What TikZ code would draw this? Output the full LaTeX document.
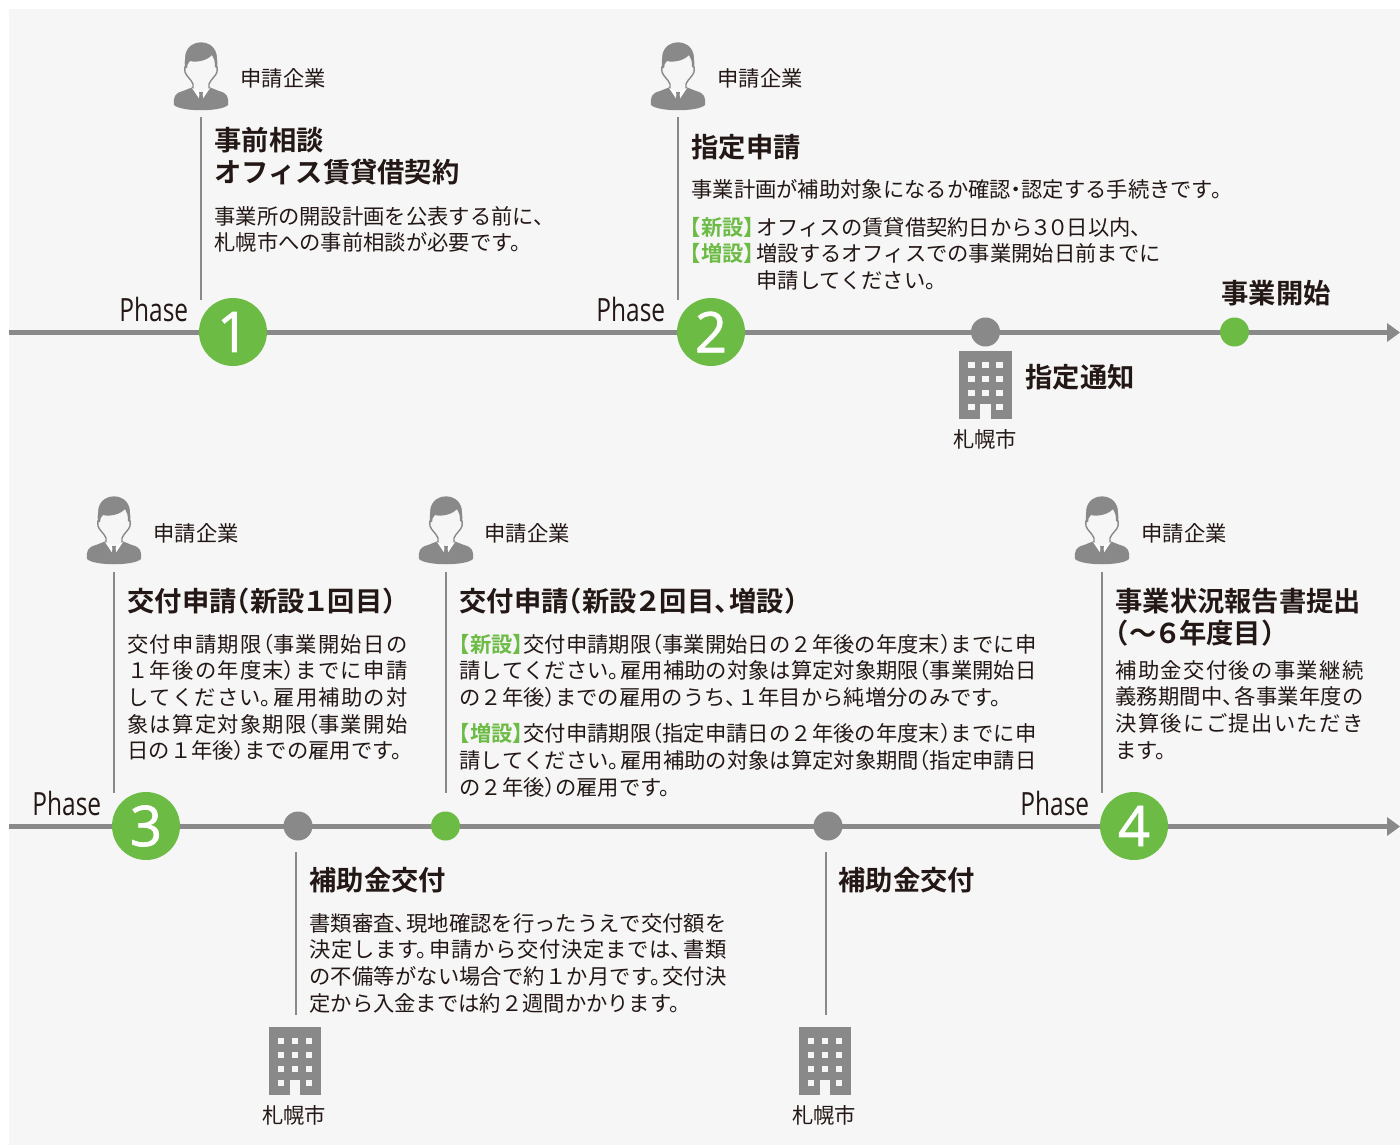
\documentclass[tikz,border=0pt]{standalone}
\usepackage{fontspec}
\newfontfamily\jp{Noto Sans CJK JP}
\newfontfamily\jpb{Noto Sans CJK JP Bold}
\newfontfamily\phasef{Open Sans}
\newfontfamily\numf[FakeBold=1.3]{Open Sans}
\XeTeXlinebreaklocale "ja"
\XeTeXlinebreakskip=0pt plus 5pt minus 5pt
\definecolor{bgc}{HTML}{F6F6F6}
\definecolor{graya}{HTML}{898989}
\definecolor{greena}{HTML}{6CBB45}
\definecolor{inka}{HTML}{231815}
\tikzset{
  base txt/.style={anchor=base west,inner sep=0pt,outer sep=0pt,text=inka,xshift=-0.6pt},
  body/.style={base txt,font=\jp\fontsize{21.3}{24}\selectfont},
  head/.style={base txt,font=\jpb\fontsize{27.3}{30}\selectfont},
  who/.style={base txt,font=\jp\fontsize{21.3}{24}\selectfont},
  city/.style={anchor=base,inner sep=0pt,outer sep=0pt,text=inka,font=\jp\fontsize{21.3}{24}\selectfont},
  phasetxt/.style={base txt,font=\phasef\fontsize{32}{34}\selectfont,xscale=0.765},
  numc/.style={circle,fill=greena,minimum size=68pt,inner sep=0pt,text=white,font=\numf\fontsize{56}{58}\selectfont},
  dotg/.style={circle,fill=graya,minimum size=29pt,inner sep=0pt},
  dotv/.style={circle,fill=greena,minimum size=29pt,inner sep=0pt},
  vline/.style={draw=graya,line width=1.4pt},
  tline/.style={draw=graya,line width=5pt},
  tipf/.style={fill=graya},
}
\newcommand{\jlp}{\hskip-.5em plus 5pt minus 5pt （}
\newcommand{\jrp}{）\hskip-.5em plus 5pt minus 5pt\relax}
\newcommand{\jtn}{、\hskip-.45em plus 5pt minus 5pt\relax}
\newcommand{\jmr}{。\hskip-.45em plus 5pt minus 5pt\relax}
\newcommand{\jdt}{\hskip-.25em ・\hskip-.25em\relax}
\newcommand{\hdg}[1]{\hskip-.08em #1\hskip-.08em\relax}
\newcommand{\fit}[2]{\vbox{\hsize=#1pt\parindent=0pt\parfillskip=0pt\leftskip=0pt\rightskip=0pt\pretolerance=-1\tolerance=10000 #2\par}}
\newcommand{\gtag}[1]{{\jpb\textcolor{greena}{\hskip-.5em 【#1】\hskip-.5em}}}
% person icon, top centre at #1,#2
\newcommand{\personicon}[2]{%
\begin{scope}[shift={(#1,#2)}]
 \fill[graya] (-27,62) .. controls (-28,54) and (-26,50) .. (-18,48) -- (-8,44) -- (8,44) -- (18,48) .. controls (26,50) and (28,54) .. (27,62) .. controls (20,69) and (-20,69) .. (-27,62) -- cycle;
 \filldraw[draw=graya,line width=1.4pt,fill=bgc] (-8,47) -- (-8,41) .. controls (-10,36) and (-15,33) .. (-16,29) .. controls (-17,26) and (-16,23) .. (-15,22) -- (-15,12) .. controls (-13,3) and (-6,0) .. (0,0) .. controls (6,0) and (13,3) .. (15,12) -- (15,22) .. controls (16,23) and (17,26) .. (16,29) .. controls (15,33) and (10,36) .. (8,41) -- (8,47) -- (0,55) -- cycle;
 \fill[graya] (-16,25) .. controls (-18,8) and (-9,0) .. (0,0) .. controls (10,0) and (18,8) .. (16,25) -- (14,24) .. controls (14,18) and (13,15) .. (11,12) .. controls (7,17) and (-4,20) .. (-11,18) .. controls (-13,20) and (-14,22) .. (-14,25) -- cycle;
 \fill[white] (-9,45) -- (-2.5,48) -- (-1,57) -- cycle;
 \fill[white] (9,45) -- (2.5,48) -- (1,57) -- cycle;
 \fill[graya] (-2,49) -- (2,49) -- (1.5,52) -- (3,61) -- (0,65) -- (-3,61) -- (-1.5,52) -- cycle;
\end{scope}}
% building icon, top centre at #1,#2
\newcommand{\buildicon}[2]{%
\begin{scope}[shift={(#1,#2)}]
 \fill[graya] (-26.3,0) rectangle (26.3,68);
 \foreach \yy in {14,28,42,56}{\foreach \xx in {-14,14}{\fill[bgc] (\xx-3.2,\yy-3.2) rectangle (\xx+3.2,\yy+3.2);}}
 \foreach \yy in {14,28,42}{\fill[bgc] (-3.2,\yy-3.2) rectangle (3.2,\yy+3.2);}
 \fill[bgc] (-5.4,53) rectangle (5.4,68);
\end{scope}}
\begin{document}
\begin{tikzpicture}[x=1pt,y=-1pt]
\useasboundingbox (0,0) rectangle (1400,1146);
\fill[white] (0,0) rectangle (1400,1146);
\fill[bgc] (9,9) rectangle (1400,1145);

% timelines
\coordinate (la) at (9,332); \coordinate (lb) at (1388,332);
\coordinate (ma) at (9,826); \coordinate (mb) at (1388,826);
\draw[tline] (la) -- (lb);
\draw[tline] (ma) -- (mb);
\fill[tipf] (1387,323) -- (1400,332.5) -- (1387,342) -- cycle;
\fill[tipf] (1387,817) -- (1400,826.5) -- (1387,836) -- cycle;

% vertical connectors
\foreach \n/\xx/\ya/\yb in {v1/201/117/300,v2/678/117/300,v3/114/572/793,v4/446/572/793,v5/1102/572/793,v6/296/852/1015,v7/826/852/1015}{
  \coordinate (\n a) at (\xx,\ya); \coordinate (\n b) at (\xx,\yb);
  \draw[vline] (\n a) -- (\n b);
}

% markers
\node[numc] (p1) at (233,332) {1};
\node[numc] (p2) at (711,332) {2};
\node[numc] (p3) at (146,826) {3};
\node[numc] (p4) at (1134,826) {4};
\node[dotg] (d1) at (985.5,332) {};
\node[dotv] (d2) at (1234.5,332) {};
\node[dotg] (d3) at (298,826) {};
\node[dotv] (d4) at (445.5,826) {};
\node[dotg] (d5) at (828,826) {};

% phase labels
\node[phasetxt] (ph1) at (120,321) {Phase};
\node[phasetxt] (ph2) at (597,321) {Phase};
\node[phasetxt] (ph3) at (33,815.5) {Phase};
\node[phasetxt] (ph4) at (1021,815.5) {Phase};

% icons
\personicon{201}{43}
\personicon{678}{43}
\personicon{114}{497}
\personicon{446}{497}
\personicon{1102}{497}
\buildicon{985.6}{351}
\buildicon{295}{1027}
\buildicon{825}{1027}

\node[who] (w1) at (241,86) {申請企業};
\node[who] (w2) at (718,86) {申請企業};
\node[who] (w3) at (154,541) {申請企業};
\node[who] (w4) at (485,541) {申請企業};
\node[who] (w5) at (1142,541) {申請企業};
\node[city] (c1) at (985,447) {札幌市};
\node[city] (c2) at (294,1123) {札幌市};
\node[city] (c3) at (824,1123) {札幌市};

% block 1
\node[head] (a1) at (215,150) {事前相談};
\node[head] (a2) at (215,182) {オフィス賃貸借契約};
\node[body] (a3) at (215,224) {事業所の開設計画を公表する前に\jtn};
\node[body] (a4) at (215,250) {札幌市への事前相談が必要です\jmr};
% block 2
\node[head] (b1) at (692,157) {指定申請};
\node[body] (b2) at (692,197) {事業計画が補助対象になるか確認\jdt 認定する手続きです\jmr};
\node[body] (b3) at (691,235) {\gtag{新設}};
\node[body] (b4) at (757,235) {オフィスの賃貸借契約日から\hskip-.1em ３\hskip-.2em ０\hskip-.1em 日以内\jtn};
\node[body] (b5) at (691,261) {\gtag{増設}};
\node[body] (b6) at (757,261) {増設するオフィスでの事業開始日前までに};
\node[body] (b7) at (757,288) {申請してください\jmr};
\node[head] (b8) at (1222,303) {事業開始};
\node[head] (b9) at (1026,387) {指定通知};
% block 3
\node[head] (e1) at (128,611) {交付申請\jlp 新設\hdg{１}回目\jrp};
\node[body] (e2) at (128,652) {\fit{280}{交付申請期限\jlp 事業開始日の}};
\node[body] (e3) at (128,678) {\fit{280}{１年後の年度末\jrp までに申請}};
\node[body] (e4) at (128,705) {\fit{280}{してください\jmr 雇用補助の対}};
\node[body] (e5) at (128,732) {\fit{280}{象は算定対象期限\jlp 事業開始}};
\node[body] (e6) at (128,758) {日の１年後\jrp までの雇用です\jmr};
% block 4
\node[head] (f1) at (460,611) {交付申請\jlp 新設\hdg{２}回目\jtn 増設\jrp};
\node[body] (f2) at (460,652) {\fit{577}{\gtag{新設}交付申請期限\jlp 事業開始日の２年後の年度末\jrp までに申}};
\node[body] (f3) at (460,678) {\fit{577}{請してください\jmr 雇用補助の対象は算定対象期限\jlp 事業開始日}};
\node[body] (f4) at (460,705) {の２年後\jrp までの雇用のうち\jtn １年目から純増分のみです\jmr};
\node[body] (f5) at (460,741) {\fit{577}{\gtag{増設}交付申請期限\jlp 指定申請日の２年後の年度末\jrp までに申}};
\node[body] (f6) at (460,768) {\fit{577}{請してください\jmr 雇用補助の対象は算定対象期間\jlp 指定申請日}};
\node[body] (f7) at (460,795) {の２年後\jrp の雇用です\jmr};
% block 5
\node[head] (g1) at (1116,611) {事業状況報告書提出};
\node[head] (g2) at (1116,643) {\jlp ～\hdg{６}年度目\jrp};
\node[body] (g3) at (1116,678) {\fit{248}{補助金交付後の事業継続}};
\node[body] (g4) at (1116,704) {\fit{248}{義務期間中\jtn 各事業年度の}};
\node[body] (g5) at (1116,731) {\fit{248}{決算後にご提出いただき}};
\node[body] (g6) at (1116,758) {ます\jmr};
% lower
\node[head] (h1) at (310,890) {補助金交付};
\node[body] (h2) at (310,931) {\fit{417}{書類審査\jtn 現地確認を行ったうえで交付額を}};
\node[body] (h3) at (310,957) {\fit{417}{決定します\jmr 申請から交付決定までは\jtn 書類}};
\node[body] (h4) at (310,984) {\fit{417}{の不備等がない場合で約１か月です\jmr 交付決}};
\node[body] (h5) at (310,1011) {定から入金までは約２週間かかります\jmr};
\node[head] (i1) at (839,890) {補助金交付};
\end{tikzpicture}
\end{document}
